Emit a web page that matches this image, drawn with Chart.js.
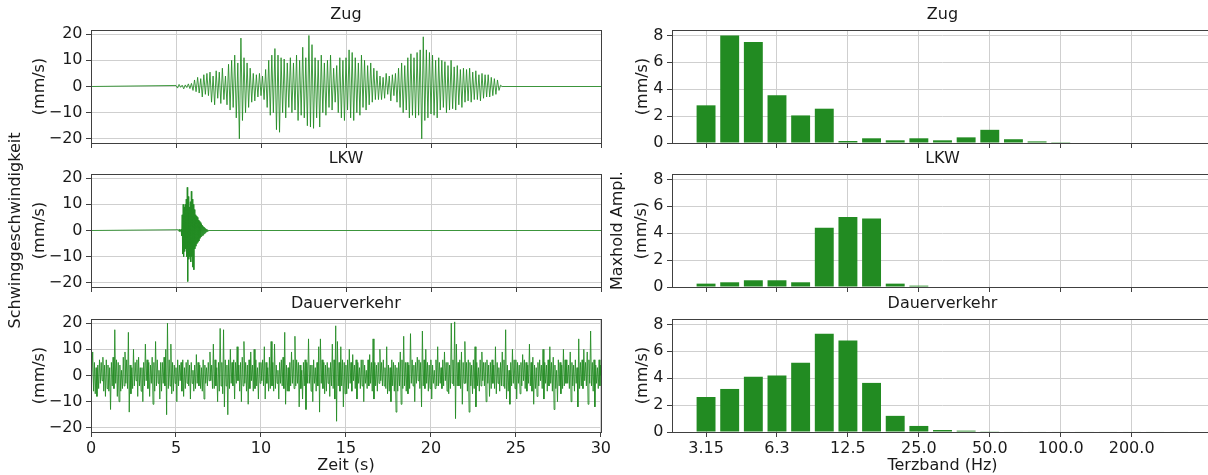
<!DOCTYPE html>
<html lang="de">
<head>
<meta charset="utf-8">
<title>Schwinggeschwindigkeit / Terzband</title>
<script src="https://cdn.jsdelivr.net/npm/chart.js@4.4.1/dist/chart.umd.min.js"></script>
<style>
  html, body { margin: 0; padding: 0; background: #fff; overflow: hidden; width: 1208px; height: 475px; }
  canvas { position: absolute; }
</style>
</head>
<body>
<script>
// Zeitachse
const zeitMin = 0;
const zeitMax = 30;
const zeitTicks = [0, 5, 10, 15, 20, 25, 30];
const geschwTicks = [-20, -10, 0, 10, 20];

// Zug: Halbwellen-Spitzen ab 5.0 s, 11 Werte pro Sekunde
const zugStart = 5.0;
const zugStep = 1 / 11;
const zugWerte = [
  0.4, -0.6, 0.8, -0.3, 0.5, -0.9, 0.6, -0.4, 1.0, -0.8, 1.2,
  -1.5, 2.5, -2.0, 3.5, -2.5, 3.0, -4.0, 4.5, -3.0, 5.0, -3.5,
  5.5, -6.0, 4.0, -7.0, 6.0, -4.5, 5.5, -6.5, 7.0, -5.0, 4.0,
  -7.0, 8.5, -9.0, 10.0, -8.0, 12.0, -12.0, 9.0, -20.0, 18.5, -13.0,
  11.0, -10.0, 9.0, -8.0, 7.0, -6.0, 5.0, -5.5, 4.5, -4.0, 5.0,
  -3.5, 4.0, -5.0, 6.5, -8.0, 10.0, -11.0, 12.0, -10.0, 14.5, -16.5,
  12.0, -17.5, 11.0, -10.0, 10.5, -12.0, 9.0, -8.0, 11.0, -10.0, 9.0,
  -9.0, 12.0, -13.0, 10.0, -11.0, 15.0, -12.0, 11.0, -15.0, 19.5, -15.5,
  16.0, -16.0, 11.0, -12.0, 10.0, -15.5, 12.0, -10.0, 9.0, -11.0, 10.0,
  -8.0, 12.0, -9.0, 7.0, -6.0, 8.0, -10.0, 11.0, -12.0, 10.0, -13.0,
  11.0, -9.0, 14.0, -12.0, 13.0, -13.0, 11.0, -10.0, 9.0, -11.0, 12.0,
  -8.0, 10.0, -9.0, 8.0, -7.0, 9.0, -6.0, 7.0, -5.0, 6.0, -5.0,
  4.0, -5.0, 3.5, -4.5, 5.0, -3.0, 4.0, -5.5, 4.5, -3.5, 5.0,
  -6.0, 7.0, -8.0, 9.0, -10.0, 8.0, -9.0, 11.0, -12.0, 12.5, -11.0,
  11.0, -12.0, 13.0, -11.0, 14.0, -20.0, 19.0, -13.0, 14.0, -12.0, 13.0,
  -10.5, 12.0, -11.0, 10.0, -12.0, 11.0, -9.0, 10.0, -8.0, 9.5, -10.0,
  8.0, -9.0, 10.0, -8.5, 7.5, -9.0, 8.0, -7.0, 6.5, -8.0, 7.0,
  -6.0, 6.5, -5.5, 7.0, -6.0, 5.5, -5.0, 6.0, -5.0, 4.5, -5.5,
  5.0, -4.5, 4.5, -4.0, 4.5, -4.0, 3.5, -3.5, 3.0, -3.0, 2.5,
  -1.5, 0.5, 0
];

// LKW: kurzer Impuls
const lkwStart = 5.15;
const lkwStep = 0.03;
const lkwWerte = [
  0.3, -0.4, 0.5, -0.3, 0.2,
  0.5, -2, 6, -9, 10, -10, 9, -8, 10, -7,
  12, -10, 16.5, -19.5, 13, -11, 9, -10, 11, -12,
  15, -10, 12, -14, 10, -15, 8, -7, 6, -6,
  5.5, -5, 5, -4.5, 4, -4, 3.5, -3, 3, -2.5,
  2.5, -2, 2, -1.8, 1.5, -1.3, 1.2, -1, 0.8, -0.6,
  0.5, -0.4, 0.3, -0.2, 0
];

// Dauerverkehr: 20 Werte pro Sekunde
const dauerStart = 0;
const dauerStep = 0.05;
const dauerWerte = [
  8, -4, 9, -6, 5, -7, 3, -8, 4, -5, 6, -3, 5, -2, 7, -6, 4, -8, 6, -5,
  4, -6, 3, -13, 5, -4, 7, -5, 17.5, -3, 6, -8, 5, -10, 4, -6, 2, -5, 7, -4,
  9, -3, 6, -5, 16.5, -14, 4, -7, 3, -5, 10, -4, 5, -2, 6, -8, 7, -4, 3, -6,
  3, -10, 5, -4, 12, -2, 6, -5, 5, -8, 4, -3, 7, -11, 5, -6, 13, -4, 6, -3,
  2, -9, 5, -6, 5, -3, 7, -4, 10, -15, 20, -5, 6, -4, 12, -7, 5, -6, 4, -3,
  3, -10, 6, -4, 4, -2, 5, -6, 6, -8, 3, -5, 5, -3, 6, -4, 4, -9, 5, -3,
  2, -6, 4, -5, 8, -3, 5, -4, 4, -5, 3, -6, 6, -9, 4, -3, 3, -4, 5, -2,
  9, -2, 4, -5, 12, -5, 6, -4, 3, -10, 5, -6, 18, -4, 5, -7, 17.5, -12, 6, -4,
  4, -15, 6, -5, 10, -3, 5, -4, 6, -9, 5, -3, 11, -2, 4, -6, 5, -10, 7, -4,
  13, -3, 5, -6, 4, -11, 6, -5, 9, -2, 4, -6, 10, -5, 6, -4, 3, -9, 5, -3,
  5, -2, 6, -4, 11, -9, 5, -3, 3, -6, 7, -5, 13, -4, 5, -6, 12, -5, 4, -3,
  2, -9, 5, -3, 6, -4, 7, -5, 16.5, -11, 4, -6, 3, -6, 5, -4, 9, -3, 6, -5,
  15, -4, 6, -3, 5, -12, 4, -5, 2, -9, 5, -4, 6, -13, 5, -3, 14, -3, 4, -6,
  4, -10, 6, -3, 3, -6, 5, -4, 11, -14, 14, -3, 6, -5, 5, -7, 4, -6, 5, -3,
  3, -8, 5, -4, 12, -5, 6, -9, 19, -17.5, 13, -4, 5, -6, 11, -4, 6, -12, 5, -7,
  4, -7, 6, -5, 10, -3, 5, -6, 8, -2, 4, -5, 6, -9, 5, -3, 3, -5, 6, -4,
  6, -10, 4, -3, 2, -5, 6, -4, 8, -3, 5, -6, 14, -9, 5, -4, 4, -6, 5, -3,
  10, -2, 5, -4, 6, -4, 3, -5, 11, -7, 4, -6, 3, -10, 6, -4, 5, -6, 4, -14,
  3, -6, 5, -4, 9, -11, 6, -5, 15, -4, 5, -6, 5, -7, 4, -5, 16, -3, 6, -4,
  4, -10, 5, -3, 7, -2, 6, -5, 5, -12, 17, -4, 6, -5, 10, -3, 5, -6, 4, -5,
  6, -9, 4, -3, 2, -5, 6, -4, 11, -4, 5, -3, 3, -5, 6, -4, 9, -2, 5, -6,
  5, -7, 4, -5, 20, -3, 6, -4, 20.5, -16.5, 12, -4, 5, -4, 6, -5, 9, -11, 5, -3,
  13, -3, 5, -6, 6, -14, 5, -4, 4, -7, 6, -5, 11, -12, 5, -4, 3, -6, 6, -4,
  9, -2, 5, -4, 5, -10, 6, -3, 4, -8, 5, -5, 6, -3, 4, -5, 11, -7, 5, -3,
  3, -6, 5, -4, 9, -4, 6, -5, 17.5, -9, 4, -6, 2, -11, 5, -4, 10, -3, 6, -5,
  6, -9, 5, -3, 4, -7, 5, -4, 8, -2, 6, -5, 5, -6, 4, -3, 12, -4, 5, -6,
  7, -11, 4, -5, 3, -8, 5, -4, 6, -2, 4, -5, 10, -9, 5, -3, 4, -6, 6, -4,
  11, -3, 5, -6, 7, -13, 4, -5, 2, -10, 6, -4, 5, -7, 4, -5, 10, -4, 6, -3,
  6, -3, 4, -5, 9, -10, 5, -4, 4, -6, 6, -3, 3, -12, 14, -5, 5, -4, 6, -5,
  10, -2, 5, -4, 9, -11, 6, -3, 17, -4, 5, -6, 6, -12, 4, -3, 3, -5, 6, -4,
  4
];

// Terzbaender (Hz)
const terzBaender = ['3.15', '4.0', '5.0', '6.3', '8.0', '10.0', '12.5', '16.0', '20.0', '25.0', '31.5',
  '40.0', '50.0', '63.0', '80.0', '100.0', '125.0', '160.0', '200.0', '250.0', '315.0'];
const terzTicks = [0, 3, 6, 9, 12, 15, 18];
const amplTicks = [0, 2, 4, 6, 8];

// Maxhold-Amplituden (mm/s)
const zugTerz = [2.8, 8.0, 7.5, 3.55, 2.05, 2.55, 0.15, 0.35, 0.2, 0.35, 0.2, 0.42, 0.98, 0.28, 0.12, 0.06, 0, 0, 0, 0, 0];
const lkwTerz = [0.25, 0.35, 0.5, 0.5, 0.35, 4.4, 5.2, 5.1, 0.25, 0.1, 0, 0, 0, 0, 0, 0, 0, 0, 0, 0, 0];
const dauerTerz = [2.6, 3.2, 4.1, 4.2, 5.15, 7.3, 6.8, 3.65, 1.2, 0.45, 0.15, 0.1, 0.05, 0.04, 0.04, 0.04, 0.04, 0.04, 0.04, 0.04, 0.04];

const GRUEN = '#228b22';
const GRID = '#cfcfcf';
const RAHMEN = '#404040';
const TEXT = '#1a1a1a';
const FAMILY = "'DejaVu Sans', sans-serif";

Chart.defaults.font.family = FAMILY;
Chart.defaults.color = TEXT;

// Achsenrahmen (oben/rechts fehlt in Chart.js)
const rahmenPlugin = {
    id: 'rahmen',
    afterDatasetsDraw(chart) {
        const { ctx, chartArea: a } = chart;
        ctx.save();
        ctx.strokeStyle = RAHMEN;
        ctx.lineWidth = 1;
        ctx.strokeRect(Math.round(a.left) + 0.5, Math.round(a.top) + 0.5,
            Math.round(a.right - a.left), Math.round(a.bottom - a.top));
        ctx.restore();
    }
};

function makeCanvas(left, top, width, height) {
    const c = document.createElement('canvas');
    c.width = width;
    c.height = height;
    c.style.left = left + 'px';
    c.style.top = top + 'px';
    c.style.width = width + 'px';
    c.style.height = height + 'px';
    document.body.appendChild(c);
    return c;
}

function minus(v) {
    return v < 0 ? '\u2212' + Math.abs(v) : String(v);
}

function signalPunkte(start, step, werte) {
    const pts = [{ x: zeitMin, y: 0 }];
    werte.forEach((v, i) => pts.push({ x: start + i * step, y: v }));
    pts.push({ x: zeitMax, y: 0 });
    return pts;
}

// Zeilen: Canvas-Oberkante, Rand oben/unten (mittlere Zeile groesser fuer langen y-Titel)
const ROWS = [
    { top: 0, padTop: 0, padBottom: 12, height: 161 },
    { top: 100, padTop: 44, padBottom: 63, height: 256 },
    { top: 289, padTop: 0, padBottom: 0, height: 186 }
];

function zeitChart(row, titel, yTitel, punkte) {
    const unten = row === 2;
    const r = ROWS[row];
    const mehrzeilig = Array.isArray(yTitel);
    new Chart(makeCanvas(0, r.top, 613, r.height), {
        type: 'line',
        data: { datasets: [{ data: punkte, borderColor: 'rgba(34,139,34,0.85)', borderWidth: 1, pointRadius: 0, tension: 0 }] },
        options: {
            responsive: false, animation: false, events: [],
            layout: { padding: { left: 0, right: 12, top: r.padTop, bottom: r.padBottom } },
            plugins: {
                legend: { display: false }, tooltip: { enabled: false },
                title: { display: true, text: titel, fullSize: false, color: TEXT,
                    font: { size: 16, weight: 'normal' }, padding: { top: 5, bottom: 5.8 } }
            },
            scales: {
                x: {
                    type: 'linear', min: zeitMin, max: zeitMax,
                    afterBuildTicks: s => { s.ticks = zeitTicks.map(v => ({ value: v })); },
                    afterFit: s => { s.height = unten ? 43 : 6; },
                    border: { display: false },
                    grid: { color: GRID, tickLength: 5, tickColor: RAHMEN },
                    ticks: { display: unten, font: { size: 16 }, padding: 2, maxRotation: 0, autoSkip: false },
                    title: { display: unten, text: 'Zeit (s)', font: { size: 16 }, padding: { top: 0, bottom: 0 } }
                },
                y: {
                    min: -21.6, max: 21.6,
                    afterBuildTicks: s => { s.ticks = geschwTicks.map(v => ({ value: v })); },
                    afterFit: s => { s.width = 91; },
                    border: { display: false },
                    grid: { color: GRID, tickLength: 5, tickColor: RAHMEN },
                    ticks: { font: { size: 16 }, padding: 3.5, callback: v => minus(v) },
                    title: { display: true, text: yTitel, font: { size: 16, lineHeight: '24px' },
                        padding: { top: mehrzeilig ? 4 : 27.5, bottom: 0 } }
                }
            }
        },
        plugins: [rahmenPlugin]
    });
}

function terzChart(row, titel, yTitel, werte) {
    const unten = row === 2;
    const r = ROWS[row];
    const mehrzeilig = Array.isArray(yTitel);
    new Chart(makeCanvas(600, r.top, 625, r.height), {
        type: 'bar',
        data: { datasets: [{ data: werte.map((v, i) => ({ x: i, y: v })), backgroundColor: GRUEN,
            borderWidth: 0, barPercentage: 0.8, categoryPercentage: 1.0 }] },
        options: {
            responsive: false, animation: false, events: [],
            layout: { padding: { left: 0, right: 12, top: r.padTop, bottom: r.padBottom } },
            plugins: {
                legend: { display: false }, tooltip: { enabled: false },
                title: { display: true, text: titel, fullSize: false, color: TEXT,
                    font: { size: 16, weight: 'normal' }, padding: { top: 5, bottom: 5.8 } }
            },
            scales: {
                x: {
                    type: 'linear', min: -1.44, max: 21.44, offset: false,
                    afterBuildTicks: s => { s.ticks = terzTicks.map(v => ({ value: v })); },
                    afterFit: s => { s.height = unten ? 43 : 6; },
                    border: { display: false },
                    grid: { color: GRID, tickLength: 5, tickColor: RAHMEN, offset: false },
                    ticks: { display: unten, font: { size: 16 }, padding: 2, maxRotation: 0, autoSkip: false,
                        callback: v => terzBaender[v] },
                    title: { display: unten, text: 'Terzband (Hz)', font: { size: 16 }, padding: { top: 0, bottom: 0 } }
                },
                y: {
                    min: 0, max: 8.4,
                    afterBuildTicks: s => { s.ticks = amplTicks.map(v => ({ value: v })); },
                    afterFit: s => { s.width = 72; },
                    border: { display: false },
                    grid: { color: GRID, tickLength: 5, tickColor: RAHMEN },
                    ticks: { font: { size: 16 }, padding: 3.5 },
                    title: { display: true, text: yTitel, font: { size: 16, lineHeight: '24px' },
                        padding: { top: mehrzeilig ? 5.4 : 30.6, bottom: 0 } }
                }
            }
        },
        plugins: [rahmenPlugin]
    });
}

zeitChart(0, 'Zug', '(mm/s)', signalPunkte(zugStart, zugStep, zugWerte));
zeitChart(1, 'LKW', ['Schwinggeschwindigkeit', '(mm/s)'], signalPunkte(lkwStart, lkwStep, lkwWerte));
zeitChart(2, 'Dauerverkehr', '(mm/s)', signalPunkte(dauerStart, dauerStep, dauerWerte));

terzChart(0, 'Zug', '(mm/s)', zugTerz);
terzChart(1, 'LKW', ['Maxhold Ampl.', '(mm/s)'], lkwTerz);
terzChart(2, 'Dauerverkehr', '(mm/s)', dauerTerz);
</script>
</body>
</html>
